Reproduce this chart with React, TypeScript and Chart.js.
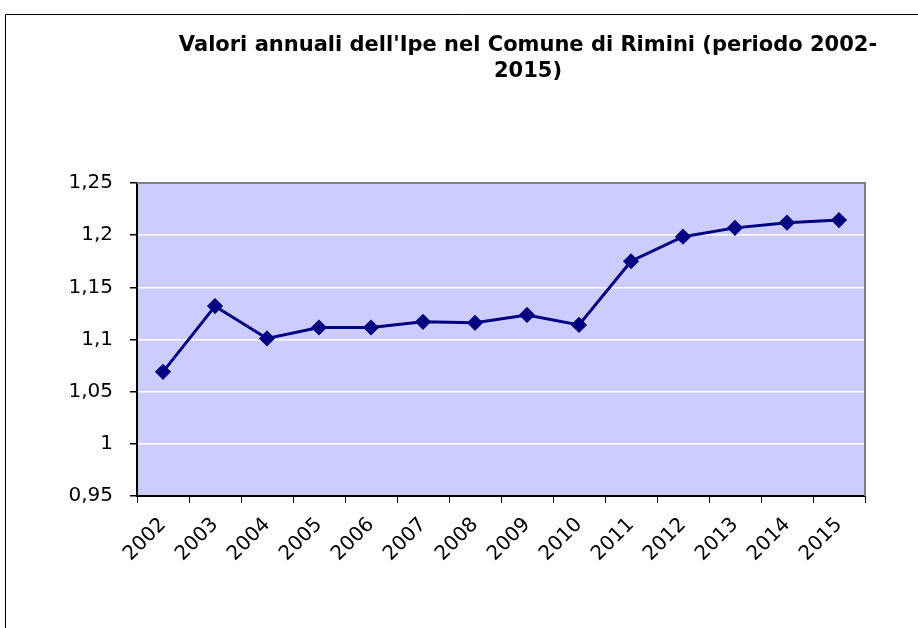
import React, { useEffect, useRef } from "react";
import { Chart, registerables } from "chart.js";

Chart.register(...registerables);

const years = ["2002", "2003", "2004", "2005", "2006", "2007", "2008", "2009", "2010", "2011", "2012", "2013", "2014", "2015"];
const ipeValues = [1.069, 1.132, 1.101, 1.1115, 1.1115, 1.117, 1.116, 1.1235, 1.114, 1.175, 1.1985, 1.207, 1.212, 1.2145];
const yTickValues = [0.95, 1.0, 1.05, 1.1, 1.15, 1.2, 1.25];
const yTickLabels = ["0,95", "1", "1,05", "1,1", "1,15", "1,2", "1,25"];
const titleLines = ["Valori annuali dell'Ipe nel Comune di Rimini (periodo 2002-", "2015)"];

const decorPlugin = {
  id: "decor",
  beforeDraw(chart: any) {
    const { ctx, chartArea } = chart;
    ctx.save();
    ctx.fillStyle = "#ffffff";
    ctx.fillRect(0, 0, chart.width, chart.height);
    ctx.strokeStyle = "#000000";
    ctx.lineWidth = 1;
    ctx.beginPath();
    ctx.moveTo(5.5, chart.height);
    ctx.lineTo(5.5, 14.5);
    ctx.lineTo(chart.width, 14.5);
    ctx.stroke();
    ctx.fillStyle = "#CCCCFF";
    ctx.fillRect(chartArea.left, chartArea.top, chartArea.right - chartArea.left, chartArea.bottom - chartArea.top);
    ctx.restore();
  },
  afterDatasetsDraw(chart: any) {
    const { ctx, chartArea } = chart;
    ctx.save();
    ctx.strokeStyle = "#808080";
    ctx.lineWidth = 2;
    ctx.beginPath();
    ctx.moveTo(chartArea.left, chartArea.top);
    ctx.lineTo(chartArea.right, chartArea.top);
    ctx.lineTo(chartArea.right, chartArea.bottom);
    ctx.stroke();
    ctx.fillStyle = "#000000";
    ctx.font = "bold 21px 'DejaVu Sans'";
    ctx.textAlign = "center";
    ctx.textBaseline = "middle";
    ctx.fillText(titleLines[0], 528, 46);
    ctx.fillText(titleLines[1], 528, 72);
    ctx.restore();
  },
};

export default function App() {
  const canvasRef = useRef<HTMLCanvasElement | null>(null);

  useEffect(() => {
    if (!canvasRef.current) return;
    const chart = new Chart(canvasRef.current, {
      type: "line",
      data: {
        labels: years,
        datasets: [
          {
            data: ipeValues,
            borderColor: "#000080",
            backgroundColor: "#000080",
            borderWidth: 3,
            pointStyle: "rectRot",
            pointRadius: 6,
            pointBorderColor: "#000080",
            pointBackgroundColor: "#000080",
            tension: 0,
          },
        ],
      },
      options: {
        responsive: false,
        animation: false,
        devicePixelRatio: 1,
        layout: { padding: { left: 0, right: 53, top: 183, bottom: 0 } },
        plugins: {
          legend: { display: false },
          title: { display: false },
          tooltip: { enabled: false },
        },
        scales: {
          x: {
            type: "category",
            offset: true,
            afterFit: (scale: any) => {
              scale.height = 132;
            },
            grid: {
              offset: true,
              drawOnChartArea: false,
              drawTicks: true,
              tickLength: 7,
              tickColor: "#000000",
              color: "#000000",
            },
            border: { display: true, color: "#000000", width: 2 },
            ticks: {
              autoSkip: false,
              minRotation: 45,
              maxRotation: 45,
              padding: 10,
              color: "#000000",
              font: { family: "'DejaVu Sans'", size: 20 },
            },
          },
          y: {
            min: 0.95,
            max: 1.25,
            afterFit: (scale: any) => {
              scale.width = 137;
            },
            afterBuildTicks: (scale: any) => {
              scale.ticks = yTickValues.map((v) => ({ value: v }));
            },
            grid: {
              color: "#ffffff",
              lineWidth: 1.5,
              tickLength: 7,
              tickColor: "#000000",
            },
            border: { display: true, color: "#000000", width: 2 },
            ticks: {
              padding: 17,
              color: "#000000",
              font: { family: "'DejaVu Sans'", size: 20 },
              callback: (_v: any, i: number) => yTickLabels[i],
            },
          },
        },
      },
      plugins: [decorPlugin],
    });
    return () => chart.destroy();
  }, []);

  return (
    <div style={{ position: "absolute", left: 0, top: 0, width: 918, height: 628 }}>
      <canvas ref={canvasRef} width={918} height={628} style={{ display: "block" }} />
    </div>
  );
}
